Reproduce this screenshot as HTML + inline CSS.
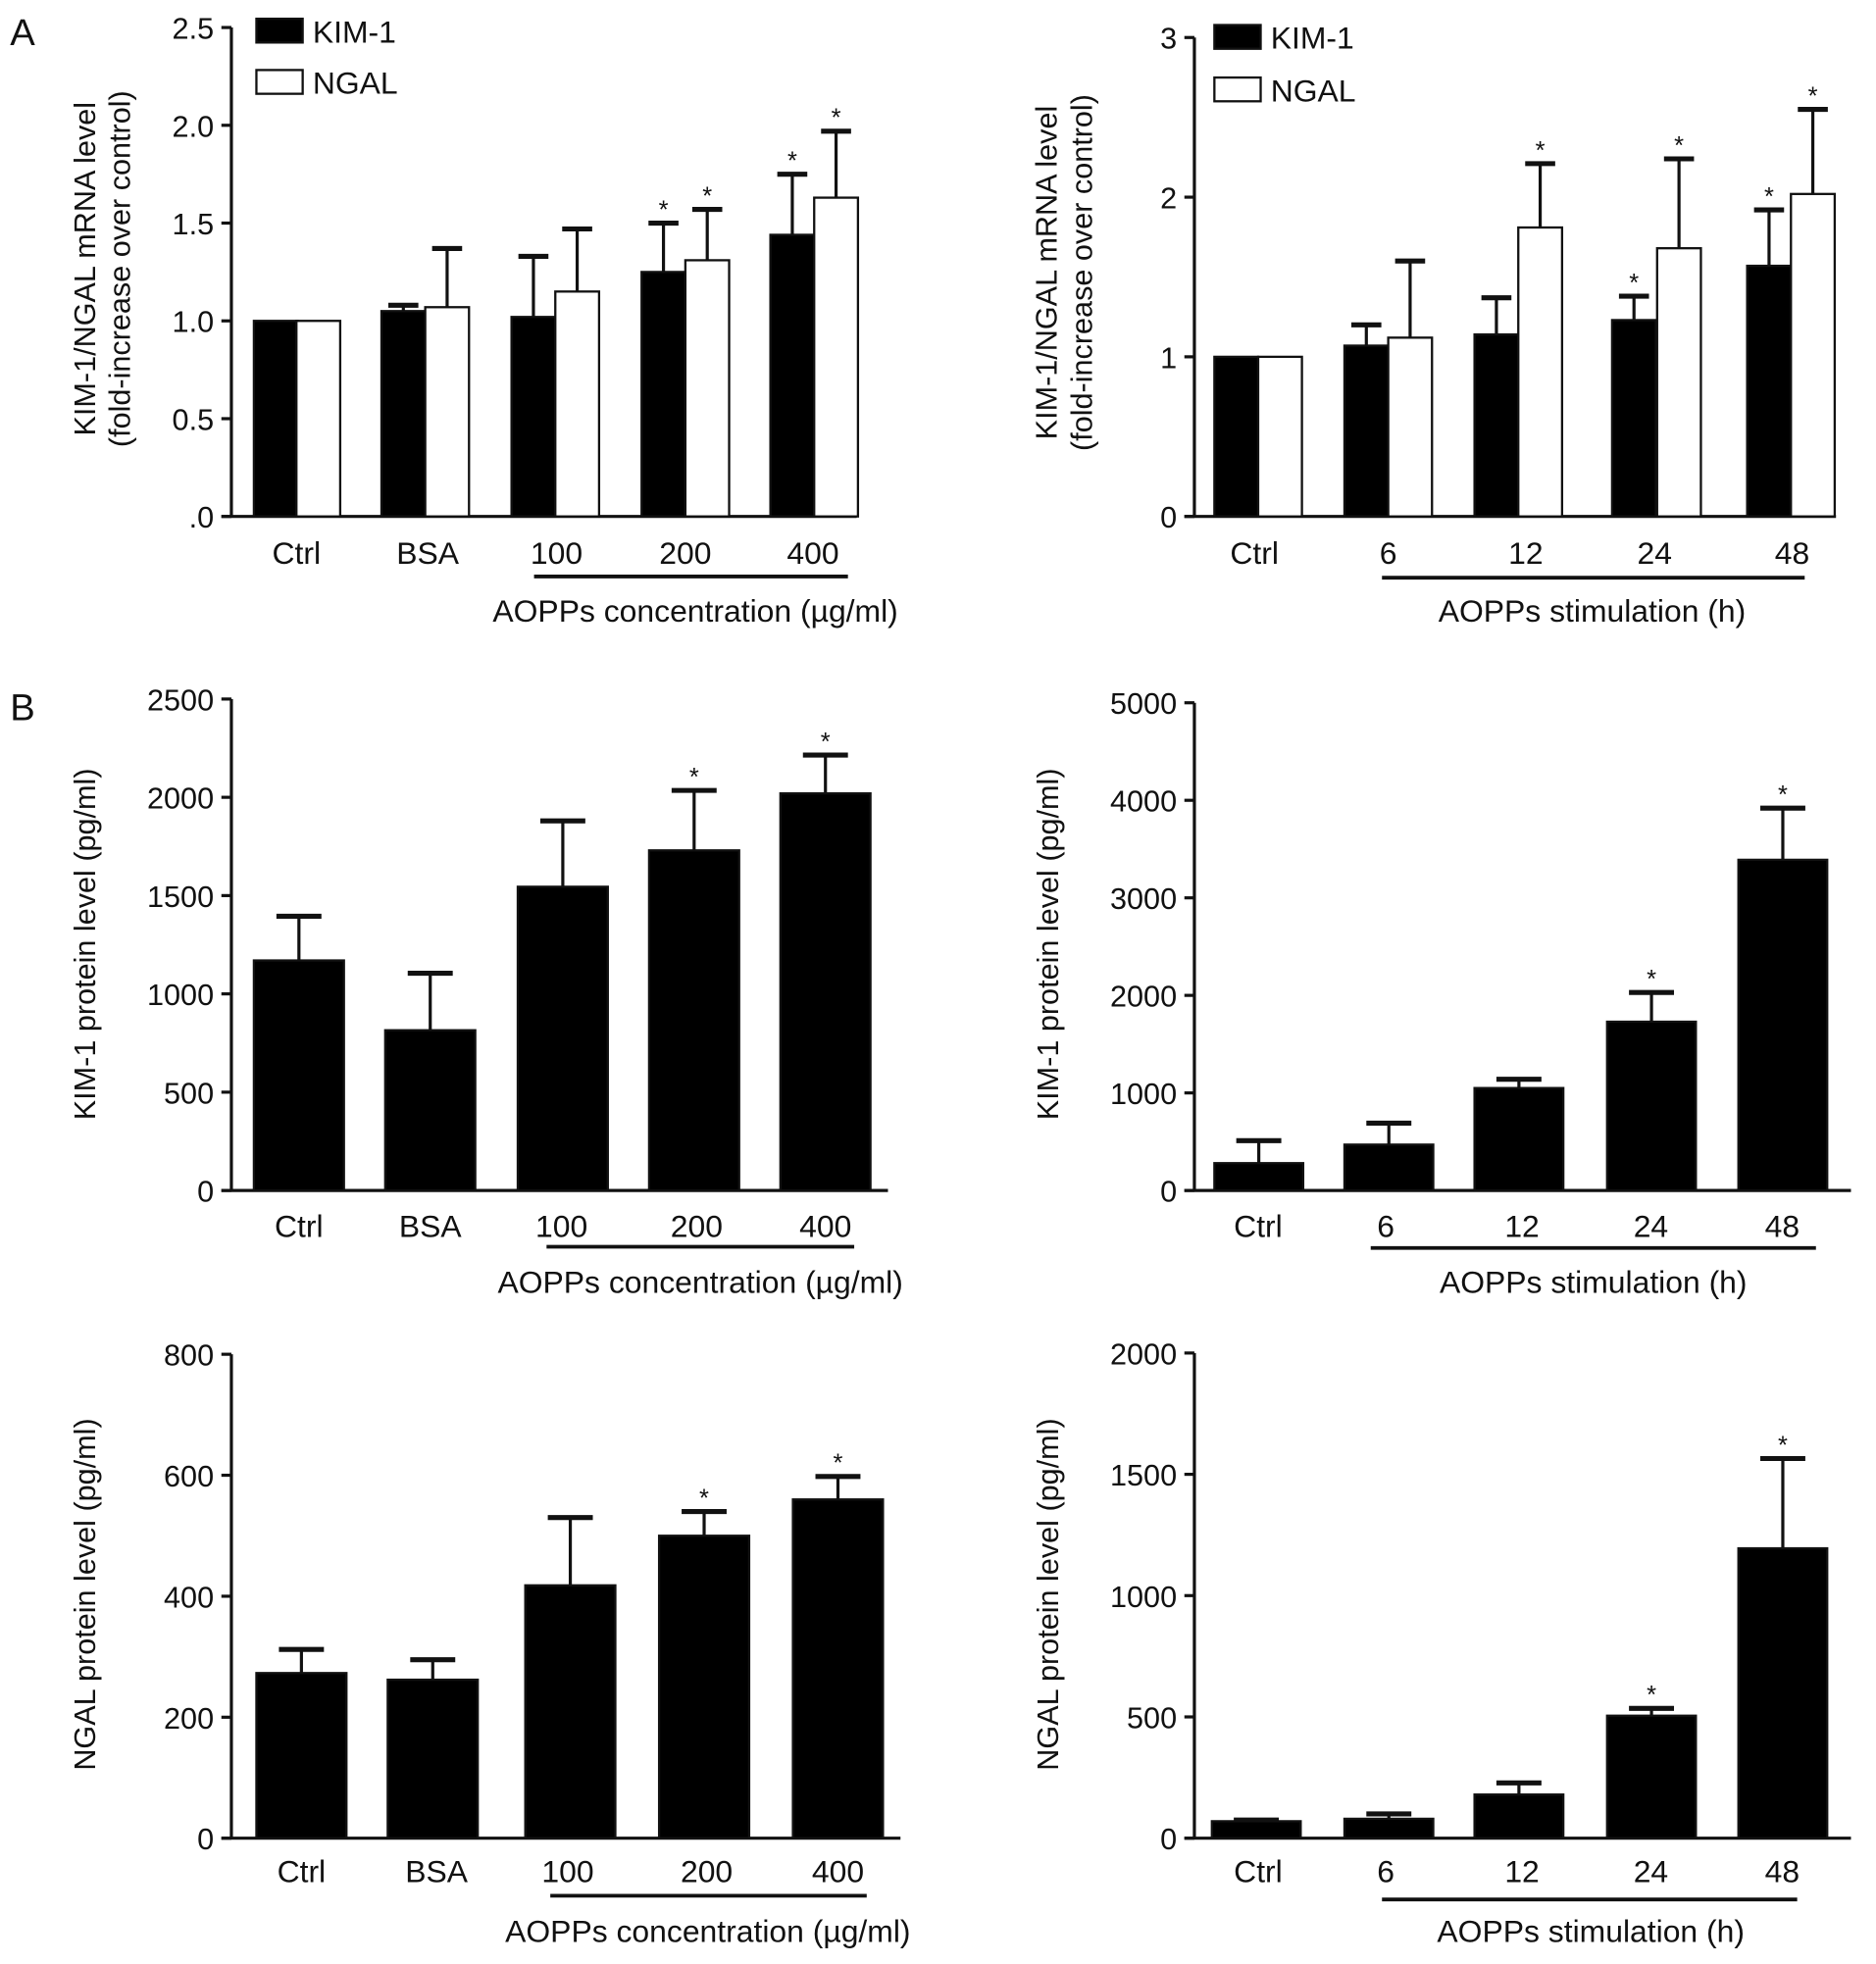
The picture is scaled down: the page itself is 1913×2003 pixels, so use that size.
<!DOCTYPE html>
<html><head><meta charset="utf-8">
<style>
html,body{margin:0;padding:0;background:#fff;}
svg{display:block;}
text{font-family:"Liberation Sans",Arial,sans-serif;fill:#111;}
</style></head>
<body>
<svg id="fig" width="1913" height="2003" viewBox="0 0 1500 1570.6" xmlns="http://www.w3.org/2000/svg">
<text x="8" y="36" font-size="30">A</text>
<text x="8" y="576" font-size="30">B</text>
</svg>
<script>
// ---- data ----
const catsConc = ["Ctrl","BSA","100","200","400"];
const catsTime = ["Ctrl","6","12","24","48"];
// Panel A left (mRNA vs concentration)
const aL_kim = [1.0,1.05,1.02,1.25,1.44];
const aL_kimErr = [1.0,1.08,1.33,1.50,1.75];
const aL_ngal = [1.0,1.07,1.15,1.31,1.63];
const aL_ngalErr = [1.0,1.37,1.47,1.57,1.97];
const aL_kimStar = [0,0,0,1,1];
const aL_ngalStar = [0,0,0,1,1];
const aL_ticks = [0,0.5,1.0,1.5,2.0,2.5];
const aL_tickLabels = [".0","0.5","1.0","1.5","2.0","2.5"];
// Panel A right (mRNA vs time)
const aR_kim = [1.0,1.07,1.14,1.23,1.57];
const aR_kimErr = [1.0,1.20,1.37,1.38,1.92];
const aR_ngal = [1.0,1.12,1.81,1.68,2.02];
const aR_ngalErr = [1.0,1.60,2.21,2.24,2.55];
const aR_kimStar = [0,0,0,1,1];
const aR_ngalStar = [0,0,1,1,1];
const aR_ticks = [0,1,2,3];
const aR_tickLabels = ["0","1","2","3"];
// Panel B KIM-1 protein
const bKL_vals = [1170,815,1545,1730,2020];
const bKL_err = [1395,1105,1880,2035,2215];
const bKL_star = [0,0,0,1,1];
const bKL_ticks = [0,500,1000,1500,2000,2500];
const bKR_vals = [280,470,1050,1730,3390];
const bKR_err = [510,690,1140,2030,3920];
const bKR_star = [0,0,0,1,1];
const bKR_ticks = [0,1000,2000,3000,4000,5000];
// Panel B NGAL protein
const bNL_vals = [273,262,418,500,560];
const bNL_err = [312,295,530,540,598];
const bNL_star = [0,0,0,1,1];
const bNL_ticks = [0,200,400,600,800];
const bNR_vals = [70,80,180,505,1195];
const bNR_err = [75,100,228,535,1565];
const bNR_star = [0,0,0,1,1];
const bNR_ticks = [0,500,1000,1500,2000];

const NS="http://www.w3.org/2000/svg";
const svg=document.getElementById('fig');
function el(tag,attrs,parent){const e=document.createElementNS(NS,tag);for(const k in attrs)e.setAttribute(k,attrs[k]);(parent||svg).appendChild(e);return e;}
function txt(x,y,s,size,anchor,parent){const t=el('text',{x:x,y:y,'font-size':size,'text-anchor':anchor||'middle'},parent);t.textContent=s;return t;}

function drawChart(cfg){
  const g=el('g',{});
  
  
  const ys=v=>cfg.y0+(cfg.y1-cfg.y0)*(v-cfg.vmin)/(cfg.vmax-cfg.vmin);
  const ya=el('line',{x1:cfg.ax,y1:ys(cfg.vmax),x2:cfg.ax,y2:cfg.y0,stroke:'#111','stroke-width':2.5},g);
  
  
  const xa=el('line',{x1:cfg.ax-8,y1:cfg.y0,x2:cfg.axEnd,y2:cfg.y0,stroke:'#111','stroke-width':2.5},g);
  
  
  cfg.ticks.forEach((v,i)=>{
    const y=ys(v);
    el('line',{x1:cfg.ax-8,y1:y,x2:cfg.ax,y2:y,stroke:'#111','stroke-width':2.5},g);
    const t=txt(cfg.ax-14,y+9,cfg.tickLabels?cfg.tickLabels[i]:String(v),24,'end',g);
    
    
  });
  cfg.series.forEach(s=>{
    s.vals.forEach((v,i)=>{
      const x=s.x[i], w=s.w;
      const top=ys(v), base=cfg.y0;
      const etop=ys(s.err[i]);
      if(s.err[i]>v){
        el('line',{x1:x+w/2,y1:top,x2:x+w/2,y2:etop,stroke:'#111','stroke-width':2.5},g);
        el('line',{x1:x+w/2-(s.cap||12),y1:etop,x2:x+w/2+(s.cap||12),y2:etop,stroke:'#111','stroke-width':4},g);
      }
      const r=el('rect',{x:x,y:top,width:w,height:base-top,fill:s.fill,stroke:'#111','stroke-width':1.8},g);
      
      
      if(s.star[i]){
        const st=txt(x+w/2,etop-4,'*',20,'middle',g);
        
        
      }
    });
  });
  cfg.cats.forEach((c,i)=>{
    const t=txt(cfg.labelX[i],cfg.labelY,c,25,'middle',g);
    
    
  });
  el('line',{x1:cfg.ul[0],y1:cfg.ul[2],x2:cfg.ul[1],y2:cfg.ul[2],stroke:'#111','stroke-width':3},g);
  const xt=txt(cfg.titleX,cfg.titleY,cfg.xTitle,25,'middle',g);
  
  
  cfg.yTitle.forEach((line,k)=>{
    const yx=cfg.yTitleX+k*28, yy=cfg.yTitleY;
    const t=txt(yx,yy,line,24,'middle',g);
    t.setAttribute('transform','rotate(-90 '+yx+' '+yy+')');
    
    
  });
  return g;
}

const xConc="AOPPs concentration (\u00b5g/ml)", xTime="AOPPs stimulation (h)";
drawChart({name:'chart-mrna-concentration',ax:185,axEnd:685,y0:413,y1:22,vmin:0,vmax:2.5,ticks:aL_ticks,tickLabels:aL_tickLabels,cats:catsConc,
  series:[{key:'kim1',vals:aL_kim,err:aL_kimErr,star:aL_kimStar,fill:'#000',x:[203,305,409,513,616],w:35},
          {key:'ngal',vals:aL_ngal,err:aL_ngalErr,star:aL_ngalStar,fill:'#fff',x:[237,340,444,548,651],w:35}],
  labelX:[237,342,445,548,650],labelY:451,ul:[427,678,461],titleX:556,titleY:497,xTitle:xConc,
  yTitle:["KIM-1/NGAL mRNA level","(fold-increase over control)"],yTitleX:76,yTitleY:215});
drawChart({name:'chart-mrna-time',ax:955,axEnd:1468,y0:413,y1:30,vmin:0,vmax:3,ticks:aR_ticks,tickLabels:aR_tickLabels,cats:catsTime,
  series:[{key:'kim1',vals:aR_kim,err:aR_kimErr,star:aR_kimStar,fill:'#000',x:[971,1075,1179,1289,1397],w:35},
          {key:'ngal',vals:aR_ngal,err:aR_ngalErr,star:aR_ngalStar,fill:'#fff',x:[1006,1110,1214,1325,1432],w:35}],
  labelX:[1003,1110,1220,1323,1433],labelY:451,ul:[1105,1443,462],titleX:1273,titleY:497,xTitle:xTime,
  yTitle:["KIM-1/NGAL mRNA level","(fold-increase over control)"],yTitleX:845,yTitleY:218});
drawChart({name:'chart-kim1-protein-concentration',ax:185,axEnd:710,y0:952,y1:559,vmin:0,vmax:2500,ticks:bKL_ticks,cats:catsConc,
  series:[{key:'kim1',vals:bKL_vals,err:bKL_err,star:bKL_star,fill:'#000',x:[203,308,414,519,624],w:72,cap:18}],
  labelX:[239,344,449,557,660],labelY:989,ul:[437,683,997],titleX:560,titleY:1034,xTitle:xConc,
  yTitle:["KIM-1 protein level (pg/ml)"],yTitleX:76,yTitleY:755});
drawChart({name:'chart-kim1-protein-time',ax:955,axEnd:1480,y0:952,y1:562,vmin:0,vmax:5000,ticks:bKR_ticks,cats:catsTime,
  series:[{key:'kim1',vals:bKR_vals,err:bKR_err,star:bKR_star,fill:'#000',x:[971,1075,1179,1285,1390],w:71,cap:18}],
  labelX:[1006,1108,1217,1320,1425],labelY:989,ul:[1096,1452,998],titleX:1274,titleY:1034,xTitle:xTime,
  yTitle:["KIM-1 protein level (pg/ml)"],yTitleX:846,yTitleY:755});
drawChart({name:'chart-ngal-protein-concentration',ax:185,axEnd:720,y0:1470,y1:1083,vmin:0,vmax:800,ticks:bNL_ticks,cats:catsConc,
  series:[{key:'ngal',vals:bNL_vals,err:bNL_err,star:bNL_star,fill:'#000',x:[205,310,420,527,634],w:72,cap:18}],
  labelX:[241,349,454,565,670],labelY:1505,ul:[440,693,1516],titleX:566,titleY:1553,xTitle:xConc,
  yTitle:["NGAL protein level (pg/ml)"],yTitleX:76,yTitleY:1275});
drawChart({name:'chart-ngal-protein-time',ax:955,axEnd:1480,y0:1470,y1:1082,vmin:0,vmax:2000,ticks:bNR_ticks,cats:catsTime,
  series:[{key:'ngal',vals:bNR_vals,err:bNR_err,star:bNR_star,fill:'#000',x:[969,1075,1179,1285,1390],w:71,cap:18}],
  labelX:[1006,1108,1217,1320,1425],labelY:1505,ul:[1105,1437,1519],titleX:1272,titleY:1553,xTitle:xTime,
  yTitle:["NGAL protein level (pg/ml)"],yTitleX:846,yTitleY:1275});

function legend(x,y1,y2,name){
  const g=el('g',{});
  
  
  el('rect',{x:x,y:y1,width:37,height:19,fill:'#000',stroke:'#111','stroke-width':1.8},g);
  txt(x+45,y1+19,'KIM-1',25,'start',g);
  el('rect',{x:x,y:y2,width:37,height:19,fill:'#fff',stroke:'#111','stroke-width':1.8},g);
  txt(x+45,y2+19,'NGAL',25,'start',g);
}
legend(205,15,56,'legend-mrna-concentration');
legend(971,20,62,'legend-mrna-time');
</script>
</body></html>
